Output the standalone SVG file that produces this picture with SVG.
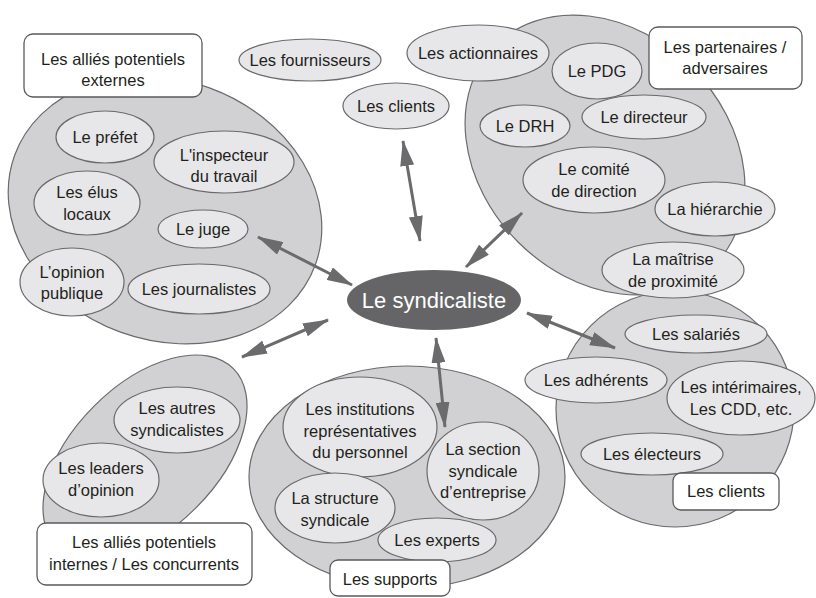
<svg xmlns="http://www.w3.org/2000/svg" width="816" height="598" viewBox="0 0 816 598">
<style>
.grp{fill:#d1d1d3;stroke:#6a6a6c;stroke-width:1.2}
.itm{fill:#e7e7e9;stroke:#6a6a6c;stroke-width:1.2}
.box{fill:#ffffff;stroke:#5a5a5c;stroke-width:1.3}
text{font-family:"Liberation Sans",Arial,sans-serif;font-size:16.5px;fill:#231f20;text-anchor:middle}
.ctr{fill:#656567;stroke:none}
.ctrt{font-size:22px;fill:#ffffff}
.arr{stroke:#6b6b6d;stroke-width:3;fill:none;marker-start:url(#ah);marker-end:url(#ah)}
</style>
<defs>
<marker id="ah" markerUnits="userSpaceOnUse" markerWidth="26" markerHeight="14" refX="25" refY="7" orient="auto-start-reverse" viewBox="0 0 26 14">
<path d="M0,0 L26,7 L0,14 z" fill="#6b6b6d"/>
</marker>
</defs>

<g id="allies-externes">
<ellipse class="grp" cx="165" cy="210" rx="160" ry="130" transform="rotate(20 165 210)"/>
<rect class="box" x="24" y="34" width="178" height="63" rx="9"/>
<text x="113" y="65">Les alliés potentiels</text>
<text x="113" y="86">externes</text>
<g id="prefet"><ellipse class="itm" cx="105" cy="137" rx="49" ry="26"/><text x="105" y="143">Le préfet</text></g>
<g id="inspecteur"><ellipse class="itm" cx="224" cy="162" rx="70" ry="31"/><text x="224" y="161">L'inspecteur</text><text x="224" y="182">du travail</text></g>
<g id="elus"><ellipse class="itm" cx="87" cy="203" rx="53" ry="32"/><text x="87" y="198">Les élus</text><text x="87" y="220">locaux</text></g>
<g id="juge"><ellipse class="itm" cx="203" cy="229" rx="45" ry="19"/><text x="203" y="235">Le juge</text></g>
<g id="opinion"><ellipse class="itm" cx="72" cy="282" rx="52" ry="34"/><text x="72" y="278">L’opinion</text><text x="72" y="299">publique</text></g>
<g id="journalistes"><ellipse class="itm" cx="199" cy="289" rx="71" ry="25"/><text x="199" y="295">Les journalistes</text></g>
</g>

<g id="fournisseurs"><ellipse class="itm" cx="310" cy="60" rx="71" ry="21"/><text x="310" y="66">Les fournisseurs</text></g>
<g id="clients-top"><ellipse class="itm" cx="396" cy="106" rx="53" ry="23"/><text x="396" y="112">Les clients</text></g>

<g id="clients-groupe">
<ellipse class="grp" cx="675" cy="409" rx="119" ry="118"/>
<g id="salaries"><ellipse class="itm" cx="696" cy="334" rx="71" ry="19"/><text x="696" y="340">Les salariés</text></g>
<g id="adherents"><ellipse class="itm" cx="596" cy="380" rx="71" ry="23"/><text x="596" y="386">Les adhérents</text></g>
<g id="interimaires"><ellipse class="itm" cx="741" cy="398" rx="74" ry="37"/><text x="741" y="393">Les intérimaires,</text><text x="741" y="415">Les CDD, etc.</text></g>
<g id="electeurs"><ellipse class="itm" cx="652" cy="454" rx="71" ry="21"/><text x="652" y="460">Les électeurs</text></g>
<rect class="box" x="673" y="473" width="106" height="37" rx="8"/>
<text x="726" y="497">Les clients</text>
</g>

<g id="partenaires">
<ellipse class="grp" cx="605" cy="155" rx="155" ry="123" transform="rotate(45 605 155)"/>
<rect class="box" x="649" y="27" width="153" height="62" rx="9"/>
<text x="725" y="53">Les partenaires /</text>
<text x="725" y="74">adversaires</text>
<g id="actionnaires"><ellipse class="itm" cx="478" cy="53" rx="71" ry="28"/><text x="478" y="59">Les actionnaires</text></g>
<g id="pdg"><ellipse class="itm" cx="597" cy="71" rx="45" ry="28"/><text x="597" y="77">Le PDG</text></g>
<g id="drh"><ellipse class="itm" cx="525" cy="126" rx="45" ry="21"/><text x="525" y="132">Le DRH</text></g>
<g id="directeur"><ellipse class="itm" cx="644" cy="117" rx="62" ry="22"/><text x="644" y="123">Le directeur</text></g>
<g id="comite"><ellipse class="itm" cx="594" cy="180" rx="71" ry="33"/><text x="594" y="175">Le comité</text><text x="594" y="197">de direction</text></g>
<g id="hierarchie"><ellipse class="itm" cx="715" cy="209" rx="60" ry="27"/><text x="715" y="215">La hiérarchie</text></g>
<g id="maitrise"><ellipse class="itm" cx="673" cy="270" rx="71" ry="28"/><text x="673" y="265">La maîtrise</text><text x="673" y="287">de proximité</text></g>
</g>

<g id="allies-internes">
<ellipse class="grp" cx="145" cy="457" rx="125" ry="72" transform="rotate(-45 145 457)"/>
<g id="autres"><ellipse class="itm" cx="177" cy="420" rx="63" ry="33"/><text x="177" y="414">Les autres</text><text x="177" y="436">syndicalistes</text></g>
<g id="leaders"><ellipse class="itm" cx="101" cy="480" rx="58" ry="37"/><text x="101" y="474">Les leaders</text><text x="101" y="496">d’opinion</text></g>
<rect class="box" x="37" y="523" width="215" height="62" rx="9"/>
<text x="144" y="548">Les alliés potentiels</text>
<text x="144" y="570">internes / Les concurrents</text>
</g>

<g id="supports">
<ellipse class="grp" cx="407" cy="477" rx="158" ry="111"/>
<g id="irp"><ellipse class="itm" cx="360" cy="427" rx="77" ry="50"/><text x="360" y="415">Les institutions</text><text x="360" y="437">représentatives</text><text x="360" y="458">du personnel</text></g>
<g id="section"><ellipse class="itm" cx="483" cy="471" rx="56" ry="49"/><text x="483" y="455">La section</text><text x="483" y="477">syndicale</text><text x="483" y="498">d’entreprise</text></g>
<g id="structure"><ellipse class="itm" cx="335" cy="508" rx="60" ry="35"/><text x="335" y="504">La structure</text><text x="335" y="526">syndicale</text></g>
<g id="experts"><ellipse class="itm" cx="437" cy="540" rx="59" ry="22"/><text x="437" y="546">Les experts</text></g>
<rect class="box" x="330" y="560" width="120" height="36" rx="8"/>
<text x="390" y="585">Les supports</text>
</g>

<g id="syndicaliste">
<ellipse class="ctr" cx="434" cy="300" rx="87" ry="30"/>
<text class="ctrt" x="434" y="308">Le syndicaliste</text>
</g>

<g id="connectors">
<line class="arr" x1="258" y1="237" x2="352" y2="285"/>
<line class="arr" x1="403" y1="141" x2="420" y2="241"/>
<line class="arr" x1="522" y1="213" x2="466" y2="267"/>
<line class="arr" x1="527" y1="313" x2="615" y2="348"/>
<line class="arr" x1="436" y1="338" x2="445" y2="427"/>
<line class="arr" x1="328" y1="320" x2="242" y2="357"/>
</g>
</svg>
